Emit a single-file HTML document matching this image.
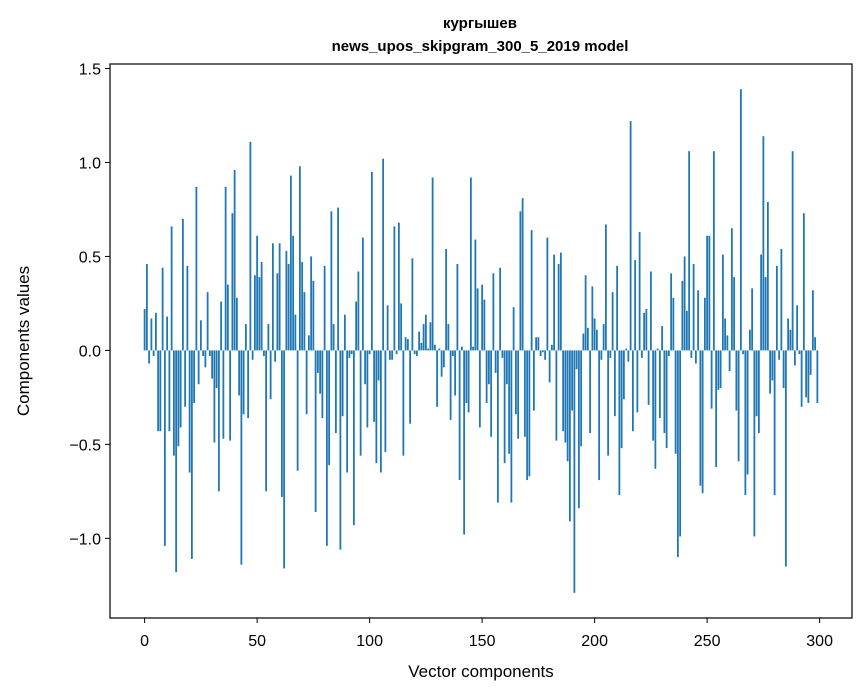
<!DOCTYPE html>
<html><head><meta charset="utf-8"><style>
html,body{margin:0;padding:0;background:#fff;}
svg{display:block;font-family:"Liberation Sans","DejaVu Sans",sans-serif;}
</style></head><body>
<svg id="chart" width="867" height="696">
<text x="480" y="28" text-anchor="middle" font-size="15" font-weight="bold">кургышев</text>
<text x="480" y="51" text-anchor="middle" font-size="15" font-weight="bold">news_upos_skipgram_300_5_2019 model</text>
<g id="bars"></g>
<rect x="110" y="64" width="742" height="554" fill="none" stroke="#000" stroke-width="1.2"/>
<g id="xticks"></g>
<g id="yticks"></g>
<text x="481" y="677" text-anchor="middle" font-size="17">Vector components</text>
<text transform="translate(29,341) rotate(-90)" text-anchor="middle" font-size="17">Components values</text>
</svg>
<script>
const values = [
0.22,0.46,-0.07,0.17,-0.03,0.20,-0.43,-0.43,0.44,-1.04,
0.18,-0.43,0.66,-0.56,-1.18,-0.51,-0.41,0.70,-0.30,0.45,
-0.65,-1.11,-0.28,0.87,-0.18,0.16,-0.03,-0.09,0.31,-0.03,
-0.15,-0.49,-0.20,-0.75,0.26,-0.47,0.87,0.35,-0.48,0.73,
0.96,0.28,-0.24,-1.14,-0.34,0.14,-0.36,1.11,-0.05,
0.40,0.61,0.39,0.47,-0.03,-0.75,0.14,-0.26,0.57,-0.06,0.41,
0.57,-0.78,-1.16,0.53,0.46,0.93,0.61,0.19,-0.64,0.98,
0.47,0.31,-0.34,0.08,0.50,0.37,-0.86,-0.12,-0.23,-0.36,
0.45,-1.04,-0.61,0.74,0.14,-0.44,0.76,-1.06,-0.35,0.19,
-0.65,-0.04,-0.02,-0.93,0.26,0.42,-0.56,0.60,-0.18,-0.41,
-0.02,0.95,-0.38,-0.60,-0.16,-0.65,1.02,-0.54,0.24,-0.05,
-0.05,0.66,-0.02,0.68,0.25,-0.56,0.07,0.06,-0.39,0.49,
-0.02,-0.03,0.10,0.04,0.14,0.19,0.01,0.15,0.92,0.03,
-0.30,0.01,-0.14,-0.09,0.54,0.14,-0.37,-0.03,-0.24,0.46,
-0.69,0.02,-0.98,-0.28,-0.33,0.92,0.02,0.59,0.33,-0.41,
0.35,0.27,-0.28,-0.18,-0.46,0.41,-0.12,-0.81,0.44,-0.04,
-0.60,-0.18,-0.55,-0.81,0.23,-0.34,-0.47,0.74,0.81,-0.46,
-0.69,-0.67,0.64,-0.32,0.07,0.07,-0.03,-0.01,-0.05,0.60,
-0.17,0.03,0.51,-0.48,0.46,0.52,-0.43,-0.49,-0.59,-0.91,
-0.32,-1.29,-0.10,-0.84,-0.51,0.09,0.40,0.12,-0.44,0.34,
0.17,0.11,-0.69,-0.05,0.14,0.67,-0.56,-0.04,0.31,-0.35,
0.45,-0.77,-0.52,-0.26,0.01,-0.06,1.22,-0.43,0.48,-0.33,
0.63,-0.04,0.20,0.22,-0.29,0.42,-0.48,-0.63,0.01,-0.36,
0.13,-0.44,-0.52,-0.03,0.41,0.28,-0.55,-1.10,-0.99,0.37,
0.50,0.21,1.06,-0.04,0.46,-0.07,0.32,
-0.72,-0.76,0.28,0.61,0.61,-0.31,1.06,-0.62,-0.21,-0.20,
0.51,0.17,0.08,-0.11,0.65,0.39,-0.32,-0.59,1.39,-0.02,
-0.77,-0.66,0.11,0.33,-0.99,-0.35,-0.44,0.51,1.14,0.39,
0.79,-0.23,-0.16,-0.77,0.45,-0.05,0.54,-0.20,-1.15,0.17,
0.11,1.06,-0.08,0.24,-0.02,-0.30,0.73,-0.25,-0.28,-0.13,
0.32,0.07,-0.28
];
const xTicks = [0,50,100,150,200,250,300];
const yTicks = [-1.0,-0.5,0.0,0.5,1.0,1.5];
const yTickLabels = ["\u22121.0","\u22120.5","0.0","0.5","1.0","1.5"];

const NS="http://www.w3.org/2000/svg";
const L=110,R=852,T=64,B=618;
const n=values.length;
const xmin=-0.4-0.05*(n-0.2), xmax=(n-1)+0.4+0.05*(n-0.2);
let vmin=Math.min(0,...values), vmax=Math.max(0,...values);
const pad=(vmax-vmin)*0.05;
const ymin=vmin-pad, ymax=vmax+pad;
const sx=v=>L+(v-xmin)/(xmax-xmin)*(R-L);
const sy=v=>B-(v-ymin)/(ymax-ymin)*(B-T);
const bars=document.getElementById('bars');
values.forEach((v,i)=>{
  const r=document.createElementNS(NS,'rect');
  const x0=sx(i-0.4), x1=sx(i+0.4);
  const y0=sy(Math.max(v,0)), y1=sy(Math.min(v,0));
  r.setAttribute('x',x0);r.setAttribute('width',x1-x0);
  r.setAttribute('y',y0);r.setAttribute('height',Math.max(y1-y0,0.3));
  r.setAttribute('fill','#1f77b4');
  
  
  bars.appendChild(r);
});
const xg=document.getElementById('xticks');
xTicks.forEach(t=>{
  const x=sx(t);
  const l=document.createElementNS(NS,'line');
  l.setAttribute('x1',x);l.setAttribute('x2',x);l.setAttribute('y1',B);l.setAttribute('y2',B+5);
  l.setAttribute('stroke','#000');
  
  
  xg.appendChild(l);
  const tx=document.createElementNS(NS,'text');
  tx.setAttribute('x',x);tx.setAttribute('y',B+28);tx.setAttribute('text-anchor','middle');tx.setAttribute('font-size','16');
  tx.textContent=t;
  
  
  xg.appendChild(tx);
});
const yg=document.getElementById('yticks');
yTicks.forEach((t,i)=>{
  const y=sy(t);
  const l=document.createElementNS(NS,'line');
  l.setAttribute('x1',L-5);l.setAttribute('x2',L);l.setAttribute('y1',y);l.setAttribute('y2',y);
  l.setAttribute('stroke','#000');
  
  
  yg.appendChild(l);
  const tx=document.createElementNS(NS,'text');
  tx.setAttribute('x',L-9);tx.setAttribute('y',y+6);tx.setAttribute('text-anchor','end');tx.setAttribute('font-size','16');
  tx.textContent=yTickLabels[i];
  
  
  yg.appendChild(tx);
});
</script>
</body></html>
